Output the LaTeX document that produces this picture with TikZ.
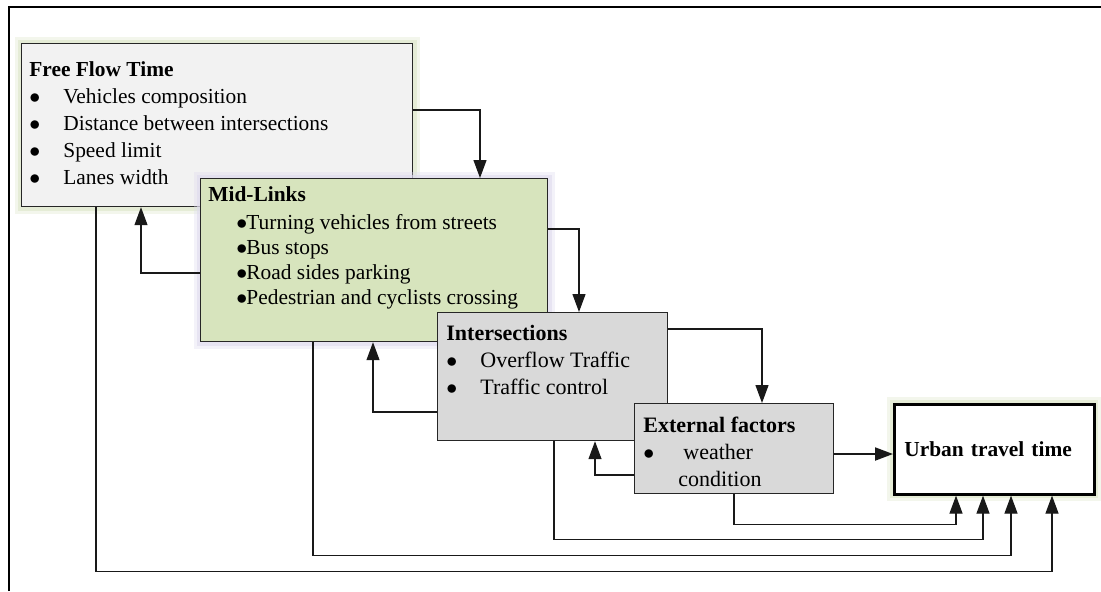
\documentclass[tikz,border=0pt]{standalone}
\usepackage{fontspec}
\setmainfont{Liberation Serif}
\usetikzlibrary{calc}
\usetikzlibrary{arrows.meta}

\definecolor{boxline}{HTML}{262626}
\definecolor{freefill}{HTML}{F2F2F2}
\definecolor{midfill}{HTML}{D7E4BD}
\definecolor{greyfill}{HTML}{D9D9D9}
\definecolor{glowgreen}{HTML}{DCE6C8}
\definecolor{glowblue}{HTML}{DEDBEE}

\tikzset{
  factor/.style={draw=boxline, line width=0.6pt, rectangle, anchor=north west, inner sep=0pt},
  glow/.style={preaction={draw=#1, line width=7pt, opacity=0.35},
               preaction={draw=#1, line width=4pt, opacity=0.6}},
  txt/.style={anchor=north west, inner sep=0pt, align=left},
  flow/.style={draw=black!90, line width=0.6pt, -{Triangle[length=9pt,width=6.5pt]}}
}
\newcommand{\bul}[1]{\makebox[#1][l]{$\bullet$}}

\begin{document}
\begin{tikzpicture}[x=0.5pt, y=-0.5pt]
  \useasboundingbox (0,0) rectangle (1101,591);
  \draw[line width=1pt] (9,591) -- (9,7) -- (1101,7);

  % factor boxes
  \node[factor, fill=freefill, glow=glowgreen, minimum width=195.5pt, minimum height=81.5pt] (free) at (21,43) {};
  \node[txt, font=\fontsize{10.7}{13.5}\selectfont] (freetxt) at (29,61) {\textbf{Free Flow Time}\\
    \bul{17pt}Vehicles composition\\
    \bul{17pt}Distance between intersections\\
    \bul{17pt}Speed limit\\
    \bul{17pt}Lanes width};

  \node[factor, fill=midfill, glow=glowblue, minimum width=173.5pt, minimum height=81.5pt] (mid) at (200,178) {};
  \node[txt, font=\fontsize{10.7}{12.5}\selectfont] (midtxt) at (208,186) {\textbf{Mid-Links}\\[1.5pt]
    \hspace*{14pt}\bul{5pt}Turning vehicles from streets\\
    \hspace*{14pt}\bul{5pt}Bus stops\\
    \hspace*{14pt}\bul{5pt}Road sides parking\\
    \hspace*{14pt}\bul{5pt}Pedestrian and cyclists crossing};

  \node[factor, fill=greyfill, minimum width=115pt, minimum height=64pt] (inter) at (437,312) {};
  \node[txt, font=\fontsize{11}{13.5}\selectfont] (intertxt) at (446,325) {\textbf{Intersections}\\
    \bul{17pt}Overflow Traffic\\
    \bul{17pt}Traffic control};

  \node[factor, fill=greyfill, minimum width=99.5pt, minimum height=45pt] (ext) at (634,403) {};
  \node[txt, font=\fontsize{11}{13.5}\selectfont] (exttxt) at (643,417) {\textbf{External factors}\\
    \bul{20pt}weather\\
    \hspace*{17.5pt}condition};

  \node[factor, fill=white, line width=1.3pt, draw=black, glow=glowgreen, minimum width=100pt, minimum height=45pt,
        text width=90pt, inner xsep=5pt, align=left, font=\fontsize{10.7}{13}\selectfont\bfseries] (urban) at (893,403) {Urban travel time};

  % forward links
  \draw[flow] ($(free.north east)+(0,67)$) -| ($(mid.north west)+(280,0)$);
  \draw[flow] ($(mid.north east)+(0,51)$) -| ($(inter.north west)+(142,0)$);
  \draw[flow] ($(inter.north east)+(0,17)$) -| ($(ext.north west)+(128,0)$);
  \draw[flow, line width=1pt] ($(ext.north east)+(0,51)$) -- ($(urban.north west)+(0,51)$);

  % feedback links
  \draw[flow] ($(mid.north west)+(0,95)$) -| ($(free.south west)+(120,0)$);
  \draw[flow] ($(inter.north west)+(0,100)$) -| ($(mid.south west)+(173,0)$);
  \draw[flow] ($(ext.north west)+(0,72)$) -| ($(inter.south west)+(158,0)$);

  % direct links to travel time
  \draw[flow] ($(ext.south west)+(100,0)$) -- ++(0,30) -| ($(urban.south west)+(63,0)$);
  \draw[flow] ($(inter.south west)+(117,0)$) -- ++(0,98) -| ($(urban.south west)+(90,0)$);
  \draw[flow] ($(mid.south west)+(113,0)$) -- ++(0,213) -| ($(urban.south west)+(118,0)$);
  \draw[flow] ($(free.south west)+(75,0)$) -- ++(0,364) -| ($(urban.south west)+(159,0)$);
\end{tikzpicture}
\end{document}
